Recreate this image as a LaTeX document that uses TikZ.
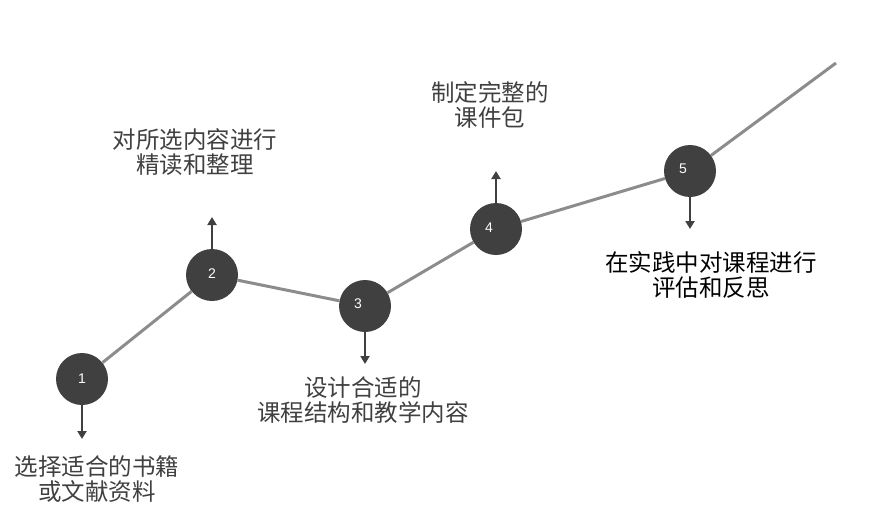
\documentclass[tikz,border=0pt]{standalone}
\usepackage{fontspec}
\newfontfamily\cjk{Noto Sans CJK SC}
\newfontfamily\numfont{Liberation Sans}
\usetikzlibrary{arrows.meta}
\definecolor{dotfill}{HTML}{404040}
\definecolor{linegray}{HTML}{8C8C8C}
\definecolor{txtgray}{HTML}{404040}
\tikzset{
  dot/.style={circle, fill=dotfill, minimum size=52pt, inner sep=0pt},
  num/.style={text=white, font=\numfont\fontsize{14}{14}\selectfont, inner sep=0pt},
  path/.style={draw=linegray, line width=3pt},
  arr/.style={draw=dotfill, line width=2pt, -{Triangle[width=9pt,length=8pt]}},
  lbl/.style={align=center, text=txtgray, inner sep=0pt, font=\cjk\fontsize{23.5}{25}\selectfont},
}
\begin{document}
\begin{tikzpicture}[x=1pt,y=-1pt]
\useasboundingbox (0,0) rectangle (888,527);
% step circles
\node[dot] (n1) at (82,379) {};
\node[dot] (n2) at (212,275) {};
\node[dot] (n3) at (365,306) {};
\node[dot] (n4) at (496,229) {};
\node[dot] (n5) at (690,171) {};
% numbers
\node[num] (t1) at (82,379) {1};
\node[num] (t2) at (212,274) {2};
\node[num] (t3) at (358,304) {3};
\node[num] (t4) at (489,228) {4};
\node[num] (t5) at (683,169) {5};
% rising line
\coordinate (end) at (836,63);
\draw[path] (n1) -- (n2);
\draw[path] (n2) -- (n3);
\draw[path] (n3) -- (n4);
\draw[path] (n4) -- (n5);
\draw[path] (n5) -- (end);
% arrows
\coordinate (a1) at (82,439);
\coordinate (a2) at (212,217);
\coordinate (a3) at (365,364);
\coordinate (a4) at (496,171);
\coordinate (a5) at (690,229);
\draw[arr] (n1.south) -- (a1);
\draw[arr] (n2.north) -- (a2);
\draw[arr] (n3.south) -- (a3);
\draw[arr] (n4.north) -- (a4);
\draw[arr] (n5.south) -- (a5);
% labels
\node[lbl] (l1) at (97,479.5) {选择适合的书籍\\或文献资料};
\node[lbl] (l2) at (195,152.5) {对所选内容进行\\精读和整理};
\node[lbl] (l3) at (363,400) {设计合适的\\课程结构和教学内容};
\node[lbl] (l4) at (490,104.5) {制定完整的\\课件包};
\node[lbl, text=black] (l5) at (711,275) {在实践中对课程进行\\评估和反思};
\end{tikzpicture}
\end{document}
